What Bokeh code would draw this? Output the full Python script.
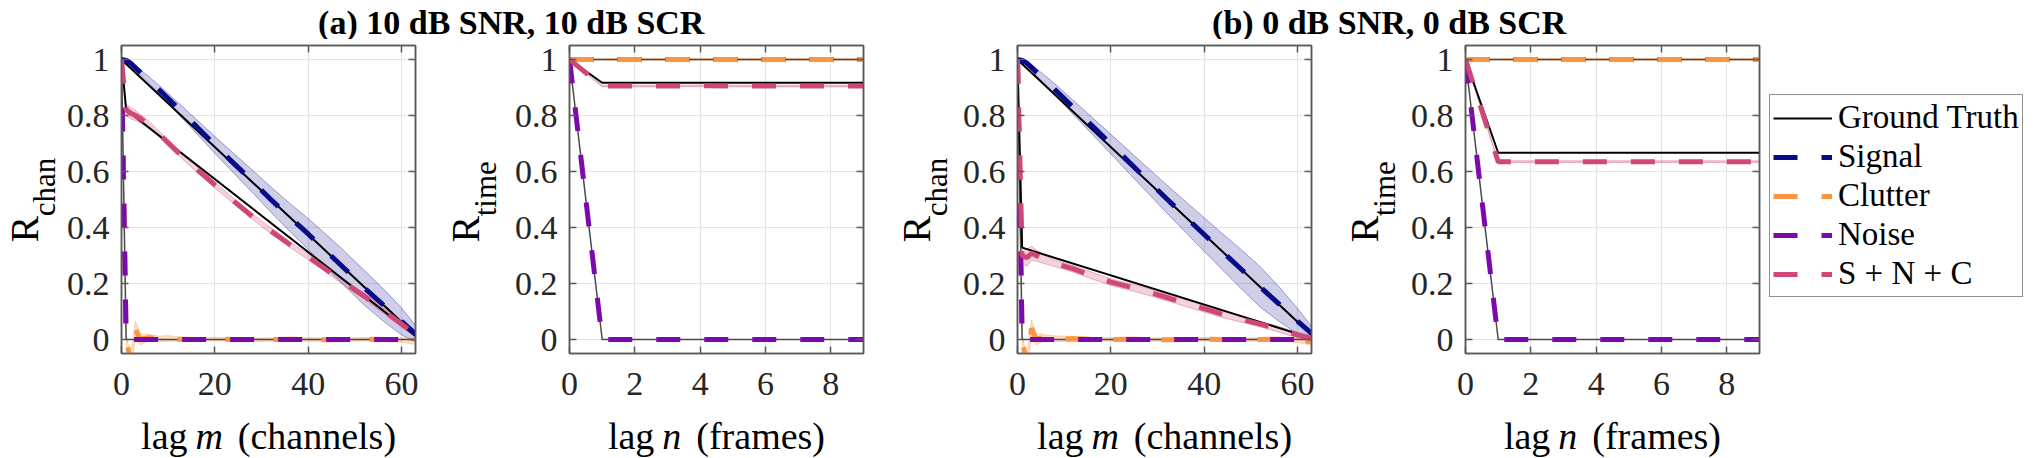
from math import pi, nan
from bokeh.plotting import figure
from bokeh.models import (Range1d, LinearAxis, Label, Legend, LegendItem,
                          CustomJSTickFormatter, FixedTicker)
from bokeh.layouts import column, row
from bokeh.embed import file_html
from bokeh.resources import INLINE

# ---------------- data ----------------
lag_m = [0, 1, 2, 3, 4, 6, 8, 12, 16, 20, 24, 28, 32, 36, 40, 44, 48, 52, 56, 60, 63]
clut_m = [0, 1, 2, 3, 4, 5, 6, 8, 10, 12, 16, 20, 24, 28, 32, 36, 40, 44, 48, 52, 56, 60, 63]
gt_m = [0, 1, 63]
lag_n = [0, 1, 2, 3, 4, 5, 6, 7, 8, 9]

# (a) 10 dB SNR, 10 dB SCR -- channel lags
sig_chan_a = [1.000, 0.997, 0.986, 0.970, 0.955, 0.925, 0.893, 0.828, 0.762, 0.695, 0.630,
              0.566, 0.500, 0.437, 0.377, 0.313, 0.250, 0.185, 0.125, 0.065, 0.020]
sig_chan_a_spread = [0.0, 0.003, 0.005, 0.007, 0.009, 0.012, 0.015, 0.020, 0.025, 0.030, 0.035,
                     0.040, 0.045, 0.050, 0.055, 0.060, 0.062, 0.062, 0.058, 0.048, 0.030]
snc_chan_a = [1.000, 0.820, 0.808, 0.800, 0.790, 0.765, 0.735, 0.670, 0.610, 0.552, 0.495,
              0.440, 0.388, 0.340, 0.295, 0.248, 0.200, 0.155, 0.105, 0.055, 0.018]
snc_chan_a_spread = [0.0, 0.020, 0.020, 0.018, 0.015, 0.012, 0.010, 0.010, 0.010, 0.010, 0.010,
                     0.010, 0.010, 0.010, 0.010, 0.010, 0.010, 0.010, 0.010, 0.010, 0.010]
clut_chan_a = [1.0, 0.0, -0.080, 0.035, 0.0, 0.004, 0.006, 0.002, 0.004, 0.001, 0.0, 0.002,
               0.0, -0.001, 0.0, 0.001, 0.0, -0.001, 0.0, 0.001, 0.0, -0.002, -0.006]
clut_chan_a_spread = [0.0, 0.010, 0.030, 0.030, 0.020, 0.015, 0.012, 0.010, 0.010, 0.008, 0.006,
                      0.006, 0.006, 0.006, 0.006, 0.006, 0.006, 0.006, 0.006, 0.006, 0.006, 0.008, 0.012]
noise_chan_a = [1.0, 0.0, 0.0]
gt_sig_chan = [1.0, 0.984, 0.016]
gt_snc_chan_a = [1.0, 0.820, 0.013]
gt_delta_chan = [1.0, 0.0, 0.0]

# (b) 0 dB SNR, 0 dB SCR -- channel lags
sig_chan_b = [1.000, 0.997, 0.987, 0.972, 0.956, 0.925, 0.893, 0.828, 0.763, 0.698, 0.632,
              0.567, 0.502, 0.438, 0.375, 0.312, 0.250, 0.188, 0.127, 0.066, 0.022]
sig_chan_b_spread = [0.0, 0.004, 0.007, 0.010, 0.012, 0.016, 0.020, 0.025, 0.030, 0.035, 0.040,
                     0.045, 0.050, 0.055, 0.060, 0.065, 0.070, 0.072, 0.062, 0.045, 0.025]
snc_chan_b = [1.000, 0.300, 0.292, 0.308, 0.300, 0.285, 0.272, 0.252, 0.228, 0.205, 0.188,
              0.170, 0.150, 0.130, 0.110, 0.090, 0.072, 0.055, 0.036, 0.016, 0.004]
snc_chan_b_spread = [0.0, 0.030, 0.030, 0.025, 0.020, 0.015, 0.012, 0.012, 0.012, 0.012, 0.012,
                     0.012, 0.012, 0.012, 0.012, 0.012, 0.010, 0.010, 0.010, 0.010, 0.010]
clut_chan_b = [1.0, 0.0, -0.090, 0.040, 0.0, 0.005, 0.004, 0.003, 0.002, 0.003, 0.001, 0.0,
               0.001, 0.0, -0.001, 0.0, 0.001, 0.0, -0.001, 0.0, 0.001, -0.003, -0.008]
clut_chan_b_spread = [0.0, 0.010, 0.035, 0.030, 0.020, 0.015, 0.012, 0.010, 0.010, 0.008, 0.006,
                      0.006, 0.006, 0.006, 0.006, 0.006, 0.006, 0.006, 0.006, 0.006, 0.006, 0.008, 0.012]
noise_chan_b = [1.0, 0.0, 0.0]
gt_snc_chan_b = [1.0, 0.328, 0.005]

# time lags
ones_time = [1.0, 1.0, 1.0, 1.0, 1.0, 1.0, 1.0, 1.0, 1.0, 1.0]
delta_time = [1.0, 0.0, 0.0, 0.0, 0.0, 0.0, 0.0, 0.0, 0.0, 0.0]
small_spread_time = [0.0, 0.003, 0.003, 0.003, 0.003, 0.003, 0.003, 0.003, 0.003, 0.003]
snc_time_a = [1.0, 0.905, 0.905, 0.905, 0.906, 0.905, 0.905, 0.905, 0.905, 0.905]
gt_snc_time_a = [1.0, 0.917, 0.917, 0.917, 0.917, 0.917, 0.917, 0.917, 0.917, 0.917]
snc_time_b = [1.0, 0.635, 0.635, 0.635, 0.635, 0.635, 0.635, 0.635, 0.635, 0.635]
gt_snc_time_b = [1.0, 0.667, 0.667, 0.667, 0.667, 0.667, 0.667, 0.667, 0.667, 0.667]

titles = ["(a)  10 dB SNR, 10 dB SCR", "(b)  0 dB SNR, 0 dB SCR"]
legend_labels = ["Ground Truth", "Signal", "Clutter", "Noise", "S + N + C"]
chan_ticks = [0, 20, 40, 60]
time_ticks = [0, 2, 4, 6, 8]
y_ticks = [0, 0.2, 0.4, 0.6, 0.8, 1.0]

# ---------------- styling / layout ----------------
FONT = "'Liberation Serif', serif"
AX = "#5a5a5a"
TXT = "#262626"
C_SIG = "#0a0a8c"
C_CLU = "#fa9540"
C_NOI = "#7a0aae"
C_SNC = "#cf4677"
GRID = "#e4e4e4"
DASH = "24 24"
DW = 5

TOTAL_W = 2040
TITLE_H = 39
B_TOP = 6
FRAME_H = 308
B_BOTTOM = 58
ROW_H = B_TOP + FRAME_H + B_BOTTOM
XL_H = 458 - TITLE_H - ROW_H
B_LEFT = 59
YL1_W = 62
YL_W = 71
P_W = 377
P4_W = 355
LEG_W = TOTAL_W - YL1_W - 3 * YL_W - 3 * P_W - P4_W
Y_RANGE = (-0.05, 1.05)


def style_axes(p, xticks):
    p.xaxis.ticker = FixedTicker(ticks=xticks)
    p.yaxis.ticker = FixedTicker(ticks=y_ticks)
    p.yaxis.formatter = CustomJSTickFormatter(code="return String(Math.round(tick * 10) / 10);")
    p.xgrid.ticker = FixedTicker(ticks=xticks)
    p.ygrid.ticker = FixedTicker(ticks=y_ticks)
    p.grid.grid_line_color = GRID
    p.grid.grid_line_width = 1.2
    for ax in [p.xaxis[0], p.yaxis[0]]:
        ax.axis_line_color = AX
        ax.axis_line_width = 1.5
        ax.major_tick_line_color = AX
        ax.major_tick_line_width = 1.5
        ax.major_tick_in = 7
        ax.major_tick_out = 0
        ax.minor_tick_line_color = None
        ax.major_label_text_font = FONT
        ax.major_label_text_font_size = "34px"
        ax.major_label_text_color = TXT
    p.xaxis.major_label_standoff = 19
    p.yaxis.major_label_standoff = 12
    for side, tk in (("above", xticks), ("right", y_ticks)):
        ax = LinearAxis(ticker=FixedTicker(ticks=tk), major_label_text_font_size="0px",
                        major_label_text_color=None, major_label_standoff=0,
                        major_tick_in=7, major_tick_out=0, minor_tick_line_color=None,
                        axis_line_color=AX, axis_line_width=1.5,
                        major_tick_line_color=AX, major_tick_line_width=1.5)
        p.add_layout(ax, side)


def make_panel(xr, xticks, width, rb):
    p = figure(width=width, height=ROW_H, x_range=Range1d(*xr), y_range=Range1d(*Y_RANGE),
               output_backend="svg", toolbar_location=None, title=None,
               min_border_left=B_LEFT, min_border_right=rb, min_border_top=B_TOP,
               min_border_bottom=B_BOTTOM)
    p.outline_line_color = AX
    p.outline_line_width = 1.5
    p.background_fill_color = "white"
    p.border_fill_color = "white"
    style_axes(p, xticks)
    return p


def band(p, x, v, s, color, alpha):
    lo = [a - b for a, b in zip(v, s)]
    hi = [a + b for a, b in zip(v, s)]
    p.varea(x=x, y1=lo, y2=hi, fill_color=color, fill_alpha=alpha)
    p.line(x, lo, line_color=color, line_alpha=0.35, line_width=1)
    p.line(x, hi, line_color=color, line_alpha=0.35, line_width=1)


def dashed(p, x, v, color):
    return p.line(x, v, line_color=color, line_width=DW, line_dash=DASH, line_cap="butt")


def strip(width, height, yr=None):
    s = figure(width=width, height=height, x_axis_type=None, y_axis_type=None,
               output_backend="svg", toolbar_location=None, title=None,
               min_border=0, min_border_left=0, min_border_right=0,
               min_border_top=0, min_border_bottom=0)
    s.x_range = Range1d(0, width)
    s.y_range = Range1d(*(yr if yr else (0, height)))
    s.outline_line_color = None
    s.grid.visible = False
    s.background_fill_color = "white"
    s.border_fill_color = "white"
    return s


def ylabel_strip(width, r_base, sub):
    # strip shares the panels' vertical scale (its frame is aligned with theirs in the row)
    s = strip(width, ROW_H, Y_RANGE)
    s.add_layout(Label(x=r_base, y=0.346, text="R", angle=pi / 2, text_align="left",
                       text_baseline="alphabetic", text_font=FONT, text_font_size="40px",
                       text_color="black"))
    s.add_layout(Label(x=r_base + 20, y=0.44, text=sub, angle=pi / 2, text_align="left",
                       text_baseline="alphabetic", text_font=FONT, text_font_size="31px",
                       text_color="black"))
    return s


def chan_panel(sig, sig_s, snc, snc_s, clu, clu_s, noi, gt_snc):
    p = make_panel((0, 63), chan_ticks, P_W, 24)
    band(p, lag_m, sig, sig_s, C_SIG, 0.2)
    band(p, clut_m, clu, clu_s, C_CLU, 0.3)
    band(p, lag_m, snc, snc_s, C_SNC, 0.25)
    p.line(gt_m, gt_delta_chan, line_color="#4a4a4a", line_width=1.5)
    p.line(gt_m, gt_sig_chan, line_color="black", line_width=2)
    p.line(gt_m, gt_snc, line_color="black", line_width=2)
    dashed(p, lag_m, sig, C_SIG)
    dashed(p, clut_m, clu, C_CLU)
    dashed(p, gt_m, noi, C_NOI)
    dashed(p, lag_m, snc, C_SNC)
    return p


def time_panel(snc, gt_snc, width, rb):
    p = make_panel((0, 9), time_ticks, width, rb)
    band(p, lag_n, ones_time, small_spread_time, C_CLU, 0.3)
    band(p, lag_n, snc, small_spread_time, C_SNC, 0.3)
    p.line(lag_n, ones_time, line_color="#4a4a4a", line_width=1.5)
    p.line(lag_n, delta_time, line_color="#4a4a4a", line_width=1.5)
    p.line(lag_n, gt_snc, line_color="black", line_width=2)
    dashed(p, lag_n, ones_time, C_SIG)
    dashed(p, lag_n, ones_time, C_CLU)
    dashed(p, lag_n, delta_time, C_NOI)
    dashed(p, lag_n, snc, C_SNC)
    return p


p1 = chan_panel(sig_chan_a, sig_chan_a_spread, snc_chan_a, snc_chan_a_spread,
                clut_chan_a, clut_chan_a_spread, noise_chan_a, gt_snc_chan_a)
p2 = time_panel(snc_time_a, gt_snc_time_a, P_W, 24)
p3 = chan_panel(sig_chan_b, sig_chan_b_spread, snc_chan_b, snc_chan_b_spread,
                clut_chan_b, clut_chan_b_spread, noise_chan_b, gt_snc_chan_b)
p4 = time_panel(snc_time_b, gt_snc_time_b, P4_W, 2)

# legend strip: the legend proxies carry only styles (their data are NaN, nothing drawn)
pl = strip(LEG_W, ROW_H)
proxy_x = [nan, nan]
proxies = [pl.line(proxy_x, proxy_x, line_color="black", line_width=2),
           pl.line(proxy_x, proxy_x, line_color=C_SIG, line_width=DW, line_dash=DASH, line_cap="butt"),
           pl.line(proxy_x, proxy_x, line_color=C_CLU, line_width=DW, line_dash=DASH, line_cap="butt"),
           pl.line(proxy_x, proxy_x, line_color=C_NOI, line_width=DW, line_dash=DASH, line_cap="butt"),
           pl.line(proxy_x, proxy_x, line_color=C_SNC, line_width=DW, line_dash=DASH, line_cap="butt")]
legend = Legend(items=[LegendItem(label=l, renderers=[r]) for l, r in zip(legend_labels, proxies)],
                location=(8, 56), label_text_font=FONT, label_text_font_size="33px",
                label_text_color="black", border_line_color="#262626", border_line_width=1,
                background_fill_color="white", background_fill_alpha=1.0,
                glyph_width=59, glyph_height=12, label_standoff=6, padding=3, spacing=0,
                label_height=39, margin=0)
pl.add_layout(legend)

yl1 = ylabel_strip(YL1_W, 24, "chan")
yl2 = ylabel_strip(YL_W, 26, "time")
yl3 = ylabel_strip(YL_W, 29, "chan")
yl4 = ylabel_strip(YL_W, 29, "time")

# title strip
pt = strip(TOTAL_W, TITLE_H)
for txt, xc in zip(titles, [515, 1393]):
    pt.add_layout(Label(x=xc, y=17.5, text=txt, text_align="center",
                        text_baseline="alphabetic", text_font=FONT, text_font_size="34px",
                        text_font_style="bold", text_color="black"))

# x-label strip
px = strip(TOTAL_W, XL_H)
xlab_specs = [(268, "m", "(channels)", (-81, -59.4, -30.7)),
              (716, "n", "(frames)", (-62.2, -44.7, -20.2)),
              (1164, "m", "(channels)", (-81, -59.4, -30.7)),
              (1612, "n", "(frames)", (-62.2, -44.7, -20.2))]
for xc, var, rest, offs in xlab_specs:
    common = dict(y=23, text_baseline="alphabetic", text_font=FONT,
                  text_font_size="38px", text_color="black")
    px.add_layout(Label(x=xc + offs[0], text="lag", text_align="right", **common))
    px.add_layout(Label(x=xc + offs[1], text=var, text_align="center",
                        text_font_style="italic", **common))
    px.add_layout(Label(x=xc + offs[2], text=rest, text_align="left", **common))

layout = column(pt, row(yl1, p1, yl2, p2, yl3, p3, yl4, p4, pl), px)
open("out.html", "w").write(file_html(layout, INLINE))
